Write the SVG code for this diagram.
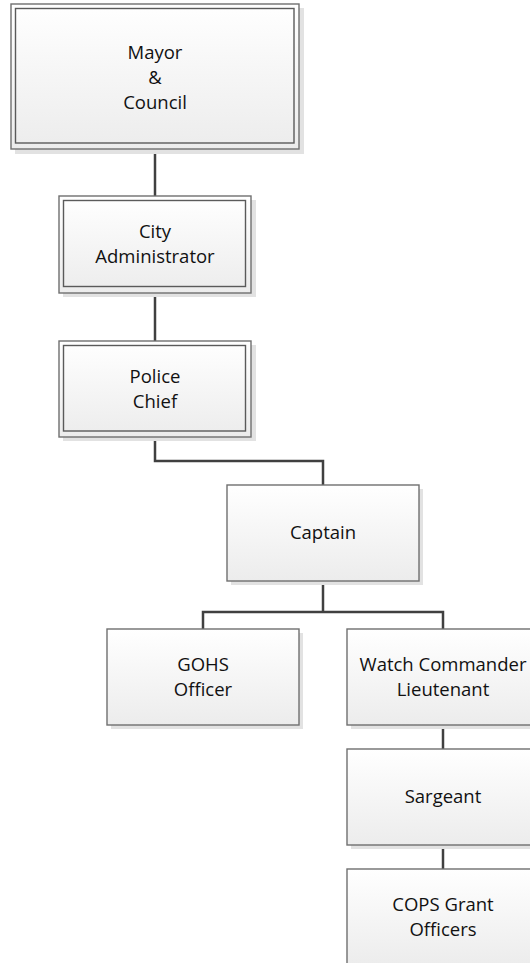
<svg xmlns="http://www.w3.org/2000/svg" width="530" height="963" viewBox="0 0 530 963">
<defs>
<linearGradient id="g" x1="0" y1="0" x2="0" y2="1">
<stop offset="0" stop-color="#ffffff"/>
<stop offset="1" stop-color="#ececec"/>
</linearGradient>
</defs>
<style>
.sh{fill:#e2e2e2;stroke:none}
.bx{fill:url(#g);stroke:#6f6f6f;stroke-width:1.4}
.in{fill:none;stroke:#5a5a5a;stroke-width:1.4}
.t{font-family:"Open Sans","Noto Sans",sans-serif;font-size:18.5px;fill:#111;text-anchor:middle}
.c{fill:none;stroke:#404040;stroke-width:2.5}
</style>
<rect width="530" height="963" fill="#fff"/>
<g id="connectors">
<path class="c" d="M155,149 V196"/>
<path class="c" d="M155,293 V341"/>
<path class="c" d="M155,437 V461 H323 V485"/>
<path class="c" d="M323,581 V612"/>
<path class="c" d="M203,629 V612 H443 V629"/>
<path class="c" d="M443,725 V749"/>
<path class="c" d="M443,845 V869"/>
</g>
<g id="mayor">
<rect class="sh" x="15" y="8" width="289" height="146"/>
<rect class="bx" x="11" y="4" width="288" height="145"/>
<rect class="in" x="15.5" y="8.5" width="278.5" height="134.5"/>
<text class="t" x="155" y="59">Mayor</text>
<text class="t" x="155" y="84">&amp;</text>
<text class="t" x="155" y="109">Council</text>
</g>
<g id="city-administrator">
<rect class="sh" x="63" y="200" width="193" height="97"/>
<rect class="bx" x="59" y="196" width="192" height="97"/>
<rect class="in" x="63.5" y="200.5" width="182" height="86"/>
<text class="t" x="155" y="238">City</text>
<text class="t" x="155" y="263">Administrator</text>
</g>
<g id="police-chief">
<rect class="sh" x="63" y="345" width="193" height="96"/>
<rect class="bx" x="59" y="341" width="192" height="96"/>
<rect class="in" x="63.5" y="345.5" width="182" height="85.5"/>
<text class="t" x="155" y="383">Police</text>
<text class="t" x="155" y="408">Chief</text>
</g>
<g id="captain">
<rect class="sh" x="231" y="489" width="192" height="96"/>
<rect class="bx" x="227" y="485" width="192" height="96"/>
<text class="t" x="323" y="539">Captain</text>
</g>
<g id="gohs-officer">
<rect class="sh" x="111" y="633" width="192" height="96"/>
<rect class="bx" x="107" y="629" width="192" height="96"/>
<text class="t" x="203" y="671">GOHS</text>
<text class="t" x="203" y="696">Officer</text>
</g>
<g id="watch-commander">
<rect class="sh" x="351" y="633" width="192" height="96"/>
<rect class="bx" x="347" y="629" width="192" height="96"/>
<text class="t" x="443" y="671">Watch Commander</text>
<text class="t" x="443" y="696">Lieutenant</text>
</g>
<g id="sargeant">
<rect class="sh" x="351" y="753" width="192" height="96"/>
<rect class="bx" x="347" y="749" width="192" height="96"/>
<text class="t" x="443" y="803">Sargeant</text>
</g>
<g id="cops-grant-officers">
<rect class="sh" x="351" y="873" width="192" height="96"/>
<rect class="bx" x="347" y="869" width="192" height="96"/>
<text class="t" x="443" y="911">COPS Grant</text>
<text class="t" x="443" y="936">Officers</text>
</g>
</svg>
